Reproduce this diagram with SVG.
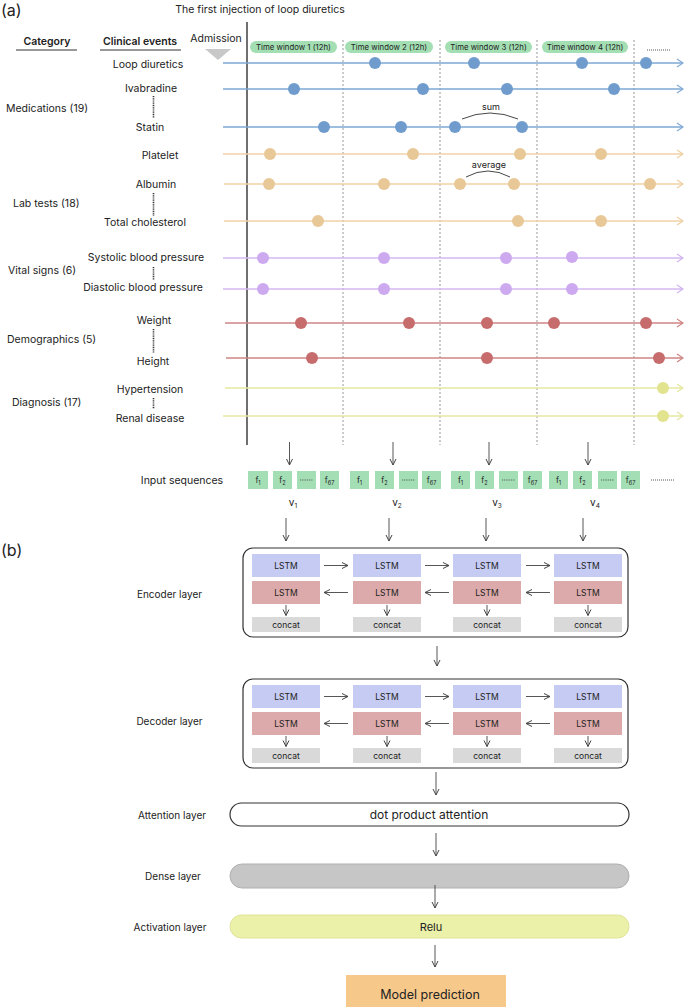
<svg xmlns="http://www.w3.org/2000/svg" width="685" height="1007" viewBox="0 0 685 1007">
<style>
text{font-family:Inter,"Liberation Sans",sans-serif;fill:#222}
.lbl{font-size:10.5px;text-anchor:middle}
.cat{font-size:10.5px}
.hdr{font-size:10.5px;font-weight:600;text-anchor:middle}
.pill{fill:#a3dfb3}
.pt{font-size:7.8px;text-anchor:middle}
.sep{stroke:#333;stroke-width:1.6;stroke-dasharray:1 0.8}
.vd{stroke:#8a8a8a;stroke-width:0.9;stroke-dasharray:2 2}
.tl{stroke-width:1.5;fill:none}
.arr{stroke:#444;stroke-width:0.9;fill:none;marker-end:url(#ah)}
.box{fill:#a3deb5}
.bt{font-size:8px;text-anchor:middle}
.blue{fill:#c6cbf4}
.red{fill:#dcaaaa}
.cc{fill:#d9d9d9}
.lt{font-size:8.5px;text-anchor:middle}
.lay{font-size:10px;text-anchor:middle}
</style>
<defs>
<marker id="ah" viewBox="0 0 8 8" refX="7" refY="4" markerWidth="8" markerHeight="8" markerUnits="userSpaceOnUse" orient="auto"><path d="M1,1 L7,4 L1,7" fill="none" stroke="#444" stroke-width="1"/></marker>
<marker id="mb" viewBox="0 0 10 10" refX="9" refY="5" markerWidth="10" markerHeight="10" markerUnits="userSpaceOnUse" orient="auto"><path d="M3,1 L9,5 L3,9" fill="none" stroke="#7ea8d6" stroke-width="1.1"/></marker>
<marker id="mt" viewBox="0 0 10 10" refX="9" refY="5" markerWidth="10" markerHeight="10" markerUnits="userSpaceOnUse" orient="auto"><path d="M3,1 L9,5 L3,9" fill="none" stroke="#edcf9f" stroke-width="1.1"/></marker>
<marker id="mp" viewBox="0 0 10 10" refX="9" refY="5" markerWidth="10" markerHeight="10" markerUnits="userSpaceOnUse" orient="auto"><path d="M3,1 L9,5 L3,9" fill="none" stroke="#cfb2f2" stroke-width="1.1"/></marker>
<marker id="mr" viewBox="0 0 10 10" refX="9" refY="5" markerWidth="10" markerHeight="10" markerUnits="userSpaceOnUse" orient="auto"><path d="M3,1 L9,5 L3,9" fill="none" stroke="#cf8282" stroke-width="1.1"/></marker>
<marker id="my" viewBox="0 0 10 10" refX="9" refY="5" markerWidth="10" markerHeight="10" markerUnits="userSpaceOnUse" orient="auto"><path d="M3,1 L9,5 L3,9" fill="none" stroke="#e3e69a" stroke-width="1.1"/></marker>
</defs>
<rect width="685" height="1007" fill="#fff"/>

<g id="panel-a-header">
<text x="1" y="16" style="font-size:16px">(a)</text>
<text x="260" y="13" style="font-size:10.5px;text-anchor:middle">The first injection of loop diuretics</text>
<text x="47" y="45" class="hdr">Category</text>
<line x1="16" y1="50" x2="77" y2="50" stroke="#333" stroke-width="1"/>
<text x="140" y="45" class="hdr">Clinical events</text>
<line x1="100" y1="50" x2="181" y2="50" stroke="#333" stroke-width="1"/>
<text x="216" y="42" style="font-size:10.5px;text-anchor:middle">Admission</text>
<path d="M205,49 L231,49 L218,60 Z" fill="#c8c8c8"/>
</g>

<g id="time-windows">
<rect x="250" y="41" width="87" height="12" rx="6" class="pill"/><text x="293.5" y="50" class="pt">Time window 1 (12h)</text>
<rect x="345" y="41" width="88" height="12" rx="6" class="pill"/><text x="389" y="50" class="pt">Time window 2 (12h)</text>
<rect x="445" y="41" width="87" height="12" rx="6" class="pill"/><text x="488.5" y="50" class="pt">Time window 3 (12h)</text>
<rect x="542" y="41" width="86" height="12" rx="6" class="pill"/><text x="585" y="50" class="pt">Time window 4 (12h)</text>
<line x1="647" y1="50" x2="671" y2="50" stroke="#444" stroke-width="0.9" stroke-dasharray="1 1"/>
</g>

<g id="grid">
<line x1="247" y1="22" x2="247" y2="445" stroke="#222" stroke-width="1.3"/>
<line x1="343" y1="40" x2="343" y2="445" class="vd"/>
<line x1="440" y1="40" x2="440" y2="445" class="vd"/>
<line x1="537" y1="40" x2="537" y2="445" class="vd"/>
<line x1="634" y1="40" x2="634" y2="445" class="vd"/>
</g>

<g id="categories">
<text x="6" y="112" class="cat">Medications (19)</text>
<text x="13" y="207" class="cat">Lab tests (18)</text>
<text x="8" y="274" class="cat">Vital signs (6)</text>
<text x="7" y="343" class="cat">Demographics (5)</text>
<text x="12" y="406" class="cat">Diagnosis (17)</text>
</g>

<g id="event-labels">
<text x="148" y="68" class="lbl">Loop diuretics</text>
<text x="151" y="92" class="lbl">Ivabradine</text>
<line x1="153.5" y1="96" x2="153.5" y2="118" class="sep"/>
<text x="150" y="131" class="lbl">Statin</text>
<text x="160" y="159" class="lbl">Platelet</text>
<text x="156" y="188" class="lbl">Albumin</text>
<line x1="153.5" y1="193" x2="153.5" y2="216" class="sep"/>
<text x="145" y="226" class="lbl">Total cholesterol</text>
<text x="146" y="261" class="lbl">Systolic blood pressure</text>
<line x1="153.5" y1="267" x2="153.5" y2="280" class="sep"/>
<text x="143" y="291" class="lbl">Diastolic blood pressure</text>
<text x="154" y="324" class="lbl">Weight</text>
<line x1="153.5" y1="329" x2="153.5" y2="353" class="sep"/>
<text x="153" y="365" class="lbl">Height</text>
<text x="150" y="393" class="lbl">Hypertension</text>
<line x1="153.5" y1="398" x2="153.5" y2="409" class="sep"/>
<text x="150" y="422" class="lbl">Renal disease</text>
</g>

<g id="timelines">
<g stroke="#7ea8d6" class="tl">
<line x1="223" y1="63" x2="683" y2="63" marker-end="url(#mb)"/>
<line x1="223" y1="89" x2="683" y2="89" marker-end="url(#mb)"/>
<line x1="223" y1="127" x2="683" y2="127" marker-end="url(#mb)"/>
</g>
<g fill="#6f9ccd">
<circle cx="375" cy="63" r="6"/><circle cx="474" cy="63" r="6"/><circle cx="582" cy="63" r="6"/><circle cx="646" cy="63" r="6"/>
<circle cx="294" cy="89" r="6"/><circle cx="423" cy="89" r="6"/><circle cx="507" cy="89" r="6"/><circle cx="614" cy="89" r="6"/>
<circle cx="324" cy="127" r="6"/><circle cx="401" cy="127" r="6"/><circle cx="455" cy="127" r="6"/><circle cx="522" cy="127" r="6"/>
</g>
<g stroke="#efd2a6" class="tl">
<line x1="223" y1="154" x2="683" y2="154" marker-end="url(#mt)"/>
<line x1="224" y1="184" x2="683" y2="184" marker-end="url(#mt)"/>
<line x1="224" y1="221" x2="683" y2="221" marker-end="url(#mt)"/>
</g>
<g fill="#e9c897">
<circle cx="270" cy="154" r="6"/><circle cx="413" cy="154" r="6"/><circle cx="520" cy="154" r="6"/><circle cx="601" cy="154" r="6"/>
<circle cx="269" cy="184" r="6"/><circle cx="384" cy="184" r="6"/><circle cx="460" cy="184" r="6"/><circle cx="514" cy="184" r="6"/><circle cx="650" cy="184" r="6"/>
<circle cx="318" cy="221" r="6"/><circle cx="518" cy="221" r="6"/><circle cx="601" cy="221" r="6"/>
</g>
<g stroke="#d3b8f2" class="tl">
<line x1="223" y1="258" x2="683" y2="258" marker-end="url(#mp)"/>
<line x1="223" y1="289" x2="683" y2="289" marker-end="url(#mp)"/>
</g>
<g fill="#cdaaf0">
<circle cx="263" cy="258" r="6"/><circle cx="384" cy="258" r="6"/><circle cx="506" cy="258" r="6"/><circle cx="572" cy="257" r="6"/>
<circle cx="263" cy="289" r="6"/><circle cx="384" cy="289" r="6"/><circle cx="506" cy="289" r="6"/><circle cx="572" cy="289" r="6"/>
</g>
<g stroke="#cf8585" class="tl">
<line x1="225" y1="323" x2="683" y2="323" marker-end="url(#mr)"/>
<line x1="226" y1="358" x2="683" y2="358" marker-end="url(#mr)"/>
</g>
<g fill="#c76c6c">
<circle cx="301" cy="323" r="6"/><circle cx="409" cy="323" r="6"/><circle cx="487" cy="323" r="6"/><circle cx="554" cy="323" r="6"/><circle cx="646" cy="323" r="6"/>
<circle cx="312" cy="358" r="6"/><circle cx="487" cy="358" r="6"/><circle cx="659" cy="358" r="6"/>
</g>
<g stroke="#e6e8a2" class="tl">
<line x1="225" y1="388" x2="683" y2="388" marker-end="url(#my)"/>
<line x1="223" y1="416" x2="683" y2="416" marker-end="url(#my)"/>
</g>
<g fill="#e2e38e">
<circle cx="663" cy="388" r="6"/><circle cx="663" cy="416" r="6"/>
</g>
</g>

<g id="aggregation">
<path d="M462,119 Q490,107 518,119" fill="none" stroke="#333" stroke-width="0.9"/>
<text x="491" y="110" style="font-size:9px;text-anchor:middle">sum</text>
<path d="M466,177 Q488,165 510,177" fill="none" stroke="#333" stroke-width="0.9"/>
<text x="489" y="168" style="font-size:9px;text-anchor:middle">average</text>
</g>

<g id="input-sequences">
<text x="182" y="484" style="font-size:10.5px;text-anchor:middle">Input sequences</text>
<g id="v1">
<rect x="248" y="471" width="20" height="18" class="box"/><text x="258" y="483" class="bt">f<tspan style="font-size:5.5px" dy="1.5">1</tspan></text>
<rect x="273" y="471" width="19" height="18" class="box"/><text x="282.5" y="483" class="bt">f<tspan style="font-size:5.5px" dy="1.5">2</tspan></text>
<rect x="297" y="471" width="19" height="18" class="box"/><line x1="300" y1="480" x2="313" y2="480" stroke="#444" stroke-width="0.8" stroke-dasharray="1 0.8"/>
<rect x="320" y="471" width="19" height="18" class="box"/><text x="329.5" y="483" class="bt">f<tspan style="font-size:5.5px" dy="1.5">67</tspan></text>
<text x="293" y="506" style="font-size:10px;text-anchor:middle">v<tspan style="font-size:6.5px" dy="2">1</tspan></text>
</g>
<g id="v2">
<rect x="350" y="471" width="19" height="18" class="box"/><text x="359.5" y="483" class="bt">f<tspan style="font-size:5.5px" dy="1.5">1</tspan></text>
<rect x="375" y="471" width="19" height="18" class="box"/><text x="384.5" y="483" class="bt">f<tspan style="font-size:5.5px" dy="1.5">2</tspan></text>
<rect x="399" y="471" width="19" height="18" class="box"/><line x1="402" y1="480" x2="415" y2="480" stroke="#444" stroke-width="0.8" stroke-dasharray="1 0.8"/>
<rect x="422" y="471" width="19" height="18" class="box"/><text x="431.5" y="483" class="bt">f<tspan style="font-size:5.5px" dy="1.5">67</tspan></text>
<text x="397" y="506" style="font-size:10px;text-anchor:middle">v<tspan style="font-size:6.5px" dy="2">2</tspan></text>
</g>
<g id="v3">
<rect x="451" y="471" width="19" height="18" class="box"/><text x="460.5" y="483" class="bt">f<tspan style="font-size:5.5px" dy="1.5">1</tspan></text>
<rect x="475" y="471" width="19" height="18" class="box"/><text x="484.5" y="483" class="bt">f<tspan style="font-size:5.5px" dy="1.5">2</tspan></text>
<rect x="499" y="471" width="19" height="18" class="box"/><line x1="502" y1="480" x2="515" y2="480" stroke="#444" stroke-width="0.8" stroke-dasharray="1 0.8"/>
<rect x="523" y="471" width="19" height="18" class="box"/><text x="532.5" y="483" class="bt">f<tspan style="font-size:5.5px" dy="1.5">67</tspan></text>
<text x="497" y="506" style="font-size:10px;text-anchor:middle">v<tspan style="font-size:6.5px" dy="2">3</tspan></text>
</g>
<g id="v4">
<rect x="549" y="471" width="19" height="18" class="box"/><text x="558.5" y="483" class="bt">f<tspan style="font-size:5.5px" dy="1.5">1</tspan></text>
<rect x="573" y="471" width="19" height="18" class="box"/><text x="582.5" y="483" class="bt">f<tspan style="font-size:5.5px" dy="1.5">2</tspan></text>
<rect x="598" y="471" width="19" height="18" class="box"/><line x1="601" y1="480" x2="614" y2="480" stroke="#444" stroke-width="0.8" stroke-dasharray="1 0.8"/>
<rect x="621" y="471" width="19" height="18" class="box"/><text x="630.5" y="483" class="bt">f<tspan style="font-size:5.5px" dy="1.5">67</tspan></text>
<text x="595" y="506" style="font-size:10px;text-anchor:middle">v<tspan style="font-size:6.5px" dy="2">4</tspan></text>
</g>
<line x1="651" y1="480" x2="675" y2="480" stroke="#444" stroke-width="0.9" stroke-dasharray="1 1"/>
</g>

<text x="1" y="556" style="font-size:16px">(b)</text>

<g id="encoder">
<text x="169.5" y="598" class="lay">Encoder layer</text>
<rect x="243" y="548" width="385" height="89" rx="10" fill="none" stroke="#333" stroke-width="1.2"/>
<rect x="252" y="554" width="68" height="23" class="blue"/><text x="286" y="568.5" class="lt">LSTM</text>
<rect x="353" y="554" width="68" height="23" class="blue"/><text x="387" y="568.5" class="lt">LSTM</text>
<rect x="453" y="554" width="68" height="23" class="blue"/><text x="487" y="568.5" class="lt">LSTM</text>
<rect x="554" y="554" width="68" height="23" class="blue"/><text x="588" y="568.5" class="lt">LSTM</text>
<rect x="252" y="581" width="68" height="23" class="red"/><text x="286" y="595.5" class="lt">LSTM</text>
<rect x="353" y="581" width="68" height="23" class="red"/><text x="387" y="595.5" class="lt">LSTM</text>
<rect x="453" y="581" width="68" height="23" class="red"/><text x="487" y="595.5" class="lt">LSTM</text>
<rect x="554" y="581" width="68" height="23" class="red"/><text x="588" y="595.5" class="lt">LSTM</text>
<rect x="252" y="617" width="68" height="15" class="cc"/><text x="286" y="627.5" class="lt">concat</text>
<rect x="353" y="617" width="68" height="15" class="cc"/><text x="387" y="627.5" class="lt">concat</text>
<rect x="453" y="617" width="68" height="15" class="cc"/><text x="487" y="627.5" class="lt">concat</text>
<rect x="554" y="617" width="68" height="15" class="cc"/><text x="588" y="627.5" class="lt">concat</text>
</g>

<g id="decoder">
<text x="169.5" y="725" class="lay">Decoder layer</text>
<rect x="243" y="679" width="385" height="89" rx="10" fill="none" stroke="#333" stroke-width="1.2"/>
<rect x="252" y="685" width="68" height="23" class="blue"/><text x="286" y="699.5" class="lt">LSTM</text>
<rect x="353" y="685" width="68" height="23" class="blue"/><text x="387" y="699.5" class="lt">LSTM</text>
<rect x="453" y="685" width="68" height="23" class="blue"/><text x="487" y="699.5" class="lt">LSTM</text>
<rect x="554" y="685" width="68" height="23" class="blue"/><text x="588" y="699.5" class="lt">LSTM</text>
<rect x="252" y="712" width="68" height="23" class="red"/><text x="286" y="726.5" class="lt">LSTM</text>
<rect x="353" y="712" width="68" height="23" class="red"/><text x="387" y="726.5" class="lt">LSTM</text>
<rect x="453" y="712" width="68" height="23" class="red"/><text x="487" y="726.5" class="lt">LSTM</text>
<rect x="554" y="712" width="68" height="23" class="red"/><text x="588" y="726.5" class="lt">LSTM</text>
<rect x="252" y="748" width="68" height="15" class="cc"/><text x="286" y="758.5" class="lt">concat</text>
<rect x="353" y="748" width="68" height="15" class="cc"/><text x="387" y="758.5" class="lt">concat</text>
<rect x="453" y="748" width="68" height="15" class="cc"/><text x="487" y="758.5" class="lt">concat</text>
<rect x="554" y="748" width="68" height="15" class="cc"/><text x="588" y="758.5" class="lt">concat</text>
</g>

<g id="attention">
<text x="172" y="819" class="lay">Attention layer</text>
<rect x="230" y="803" width="399" height="23" rx="11.5" fill="#fff" stroke="#333" stroke-width="1.2"/>
<text x="429" y="818.5" style="font-size:12px;text-anchor:middle">dot product attention</text>
</g>
<g id="dense">
<text x="173" y="880" class="lay">Dense layer</text>
<rect x="230" y="864" width="399" height="24" rx="12" fill="#c6c6c6" stroke="#b0b0b0" stroke-width="1"/>
</g>
<g id="activation">
<text x="170" y="931" class="lay">Activation layer</text>
<rect x="230" y="915" width="399" height="23" rx="11.5" fill="#ecf1a9" stroke="#dfe49a" stroke-width="1"/>
<text x="431" y="931" style="font-size:11px;text-anchor:middle">Relu</text>
</g>
<g id="prediction">
<rect x="346" y="975" width="160" height="40" fill="#f6c98b"/>
<text x="430" y="998.5" style="font-size:12.5px;text-anchor:middle">Model prediction</text>
</g>

<g id="connectors">
<line x1="289.5" y1="442" x2="289.5" y2="465" class="arr"/>
<line x1="393" y1="442" x2="393" y2="465" class="arr"/>
<line x1="489" y1="442" x2="489" y2="465" class="arr"/>
<line x1="588" y1="442" x2="588" y2="465" class="arr"/>
<line x1="286" y1="518" x2="286" y2="541" class="arr"/>
<line x1="389" y1="518" x2="389" y2="541" class="arr"/>
<line x1="486" y1="518" x2="486" y2="541" class="arr"/>
<line x1="583" y1="518" x2="583" y2="541" class="arr"/>
<line x1="324" y1="565.5" x2="348" y2="565.5" class="arr"/>
<line x1="425" y1="565.5" x2="449" y2="565.5" class="arr"/>
<line x1="526" y1="565.5" x2="550" y2="565.5" class="arr"/>
<line x1="348" y1="592.5" x2="324" y2="592.5" class="arr"/>
<line x1="449" y1="592.5" x2="425" y2="592.5" class="arr"/>
<line x1="550" y1="592.5" x2="526" y2="592.5" class="arr"/>
<line x1="286" y1="605" x2="286" y2="615.5" class="arr"/>
<line x1="387" y1="605" x2="387" y2="615.5" class="arr"/>
<line x1="487" y1="605" x2="487" y2="615.5" class="arr"/>
<line x1="588" y1="605" x2="588" y2="615.5" class="arr"/>
<line x1="437" y1="646" x2="437" y2="666" class="arr"/>
<line x1="324" y1="696.5" x2="348" y2="696.5" class="arr"/>
<line x1="425" y1="696.5" x2="449" y2="696.5" class="arr"/>
<line x1="526" y1="696.5" x2="550" y2="696.5" class="arr"/>
<line x1="348" y1="723.5" x2="324" y2="723.5" class="arr"/>
<line x1="449" y1="723.5" x2="425" y2="723.5" class="arr"/>
<line x1="550" y1="723.5" x2="526" y2="723.5" class="arr"/>
<line x1="286" y1="736" x2="286" y2="746.5" class="arr"/>
<line x1="387" y1="736" x2="387" y2="746.5" class="arr"/>
<line x1="487" y1="736" x2="487" y2="746.5" class="arr"/>
<line x1="588" y1="736" x2="588" y2="746.5" class="arr"/>
<line x1="436" y1="772" x2="436" y2="795" class="arr"/>
<line x1="436" y1="833" x2="436" y2="856" class="arr"/>
<line x1="435" y1="885" x2="435" y2="908" class="arr"/>
<line x1="435" y1="945" x2="435" y2="967" class="arr"/>
</g>
</svg>
